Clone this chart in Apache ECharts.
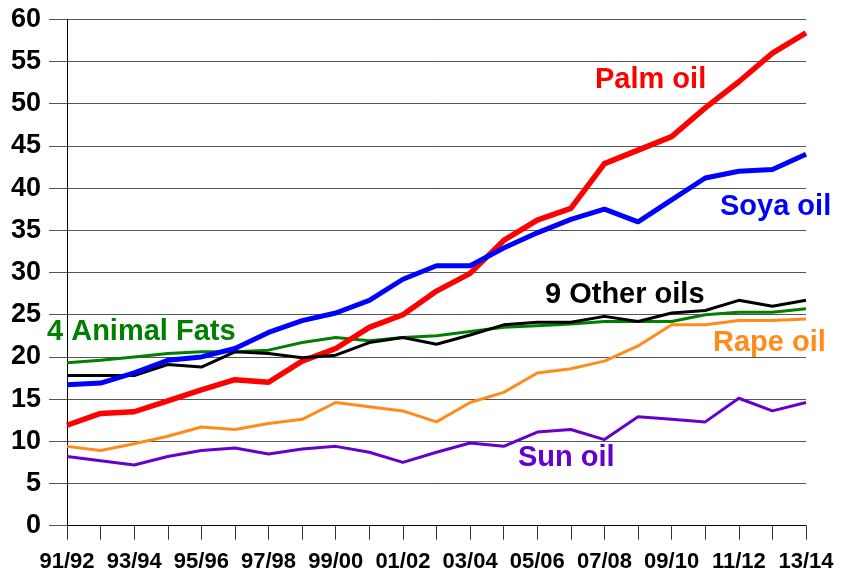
<!DOCTYPE html>
<html>
<head>
<meta charset="utf-8">
<script src="https://cdn.jsdelivr.net/npm/echarts@6/dist/echarts.min.js"></script>
<style>
html, body { margin: 0; padding: 0; background: #ffffff; }
#main { width: 842px; height: 575px; }
</style>
</head>
<body>
<div id="main"></div>
<script>
// seasons 91/92 .. 13/14
var seasons = ['91/92', '92/93', '93/94', '94/95', '95/96', '96/97', '97/98', '98/99', '99/00', '00/01',
  '01/02', '02/03', '03/04', '04/05', '05/06', '06/07', '07/08', '08/09', '09/10', '10/11',
  '11/12', '12/13', '13/14']

var palmOil = [11.9, 13.3, 13.5, 14.8, 16.1, 17.3, 17.0, 19.5, 21.0, 23.5, 25.0, 27.8, 29.9,
  33.8, 36.2, 37.6, 42.9, 44.5, 46.1, 49.5, 52.6, 56.0, 58.4]
var soyaOil = [16.7, 16.9, 18.1, 19.6, 20.0, 21.0, 22.9, 24.3, 25.2, 26.7, 29.2, 30.8, 30.8,
  32.9, 34.7, 36.3, 37.5, 36.0, 38.6, 41.2, 42.0, 42.2, 44.0]
var otherOils = [17.8, 17.8, 17.8, 19.1, 18.8, 20.6, 20.4, 19.9, 20.2, 21.7, 22.3, 21.5, 22.6,
  23.8, 24.1, 24.1, 24.8, 24.2, 25.2, 25.5, 26.7, 26.0, 26.7]
var animalFats = [19.3, 19.6, 20.0, 20.4, 20.6, 20.6, 20.8, 21.7, 22.3, 21.9, 22.3, 22.5, 23.0,
  23.5, 23.7, 23.9, 24.2, 24.2, 24.2, 25.0, 25.3, 25.3, 25.7]
var rapeOil = [9.4, 8.9, 9.7, 10.6, 11.7, 11.4, 12.1, 12.6, 14.6, 14.1, 13.6, 12.3, 14.6,
  15.8, 18.1, 18.6, 19.5, 21.3, 23.8, 23.8, 24.3, 24.3, 24.5]
var sunOil = [8.2, 7.7, 7.2, 8.2, 8.9, 9.2, 8.5, 9.1, 9.4, 8.7, 7.5, 8.7, 9.8,
  9.4, 11.1, 11.4, 10.2, 12.9, 12.6, 12.3, 15.1, 13.6, 14.6]

var chart = echarts.init(document.getElementById('main'))

var font = '"Liberation Sans", Arial, sans-serif'

function line(name, data, color, width) {
  return {
    name: name,
    type: 'line',
    data: data,
    symbol: 'none',
    smooth: false,
    lineStyle: { color: color, width: width, join: 'round' },
    itemStyle: { color: color },
    animation: false
  }
}

function label(text, left, top, color) {
  return {
    type: 'text',
    left: left,
    top: top,
    style: {
      text: text,
      fill: color,
      font: 'bold 29px ' + font
    }
  }
}

var option = {
  backgroundColor: '#ffffff',
  animation: false,
  grid: { left: 67, right: 36, top: 19.3, bottom: 49.3, containLabel: false },
  xAxis: {
    type: 'category',
    data: seasons,
    boundaryGap: false,
    axisLine: { show: true, lineStyle: { color: '#000000', width: 1 } },
    axisTick: { show: true, interval: 0, length: 14, lineStyle: { color: '#333333', width: 1 } },
    axisLabel: {
      interval: 1,
      margin: 25,
      color: '#000000',
      fontSize: 22,
      fontWeight: 'bold',
      fontFamily: font
    },
    splitLine: { show: false }
  },
  yAxis: {
    type: 'value',
    min: 0,
    max: 60,
    interval: 5,
    axisLine: { show: true, lineStyle: { color: '#000000', width: 1 } },
    axisTick: { show: true, length: 18, lineStyle: { color: '#555555', width: 1 } },
    axisLabel: {
      margin: 26,
      color: '#000000',
      fontSize: 27,
      fontWeight: 'bold',
      fontFamily: font
    },
    splitLine: { show: true, lineStyle: { color: '#555555', width: 1 } }
  },
  series: [
    line('Sun oil', sunOil, '#6600cc', 3),
    line('Rape oil', rapeOil, '#ff8c1a', 3),
    line('4 Animal Fats', animalFats, '#008000', 3),
    line('Palm oil', palmOil, '#ff0000', 5.5),
    line('9 Other oils', otherOils, '#000000', 3),
    line('Soya oil', soyaOil, '#0000ff', 5)
  ],
  graphic: [
    label('Palm oil', 595, 65, '#ff0000'),
    label('Soya oil', 720, 192, '#0000ff'),
    label('9 Other oils', 545, 280, '#000000'),
    label('4 Animal Fats', 47, 317, '#008000'),
    label('Rape oil', 713, 328, '#ff8c1a'),
    label('Sun oil', 518, 443, '#6600cc')
  ]
}

chart.setOption(option)
</script>
</body>
</html>
